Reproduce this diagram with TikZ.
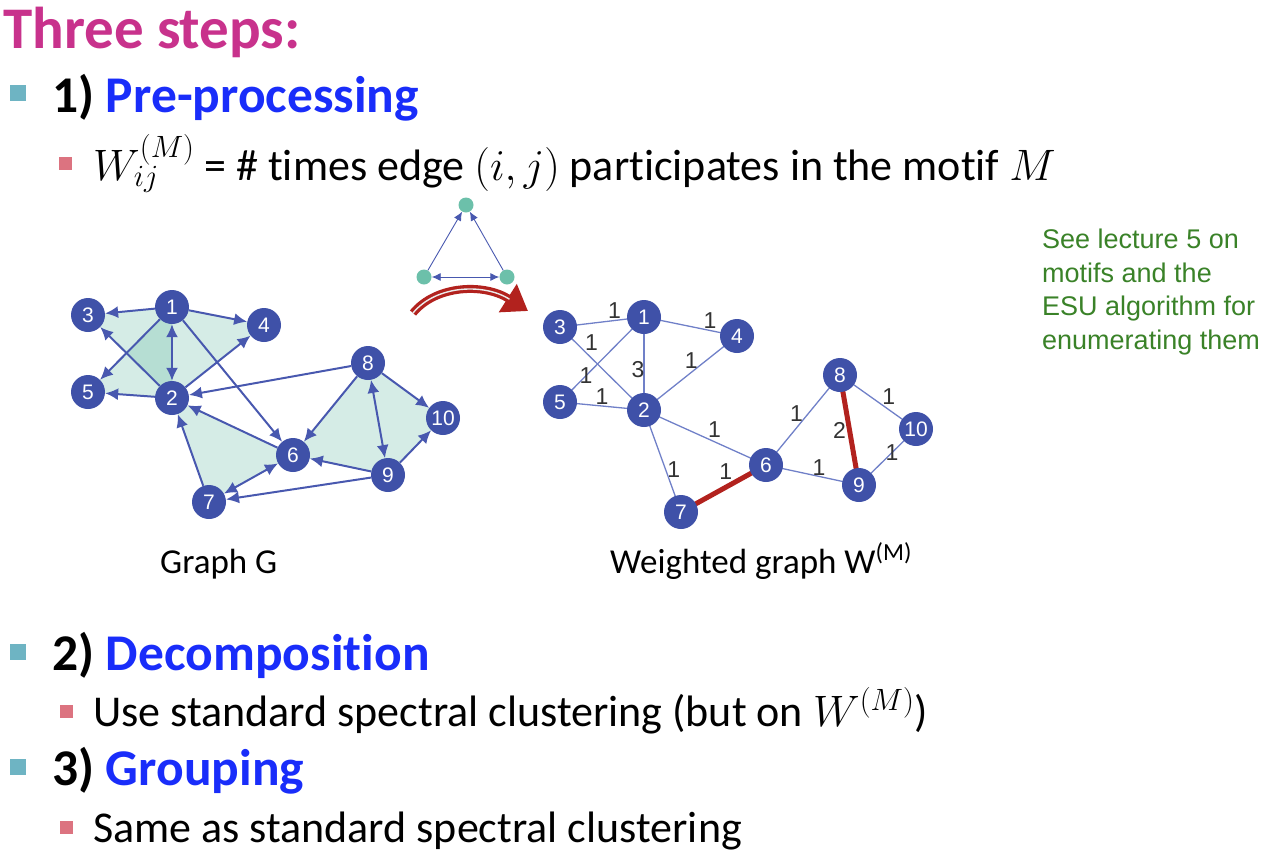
\documentclass[tikz,border=0pt]{standalone}
\usepackage{fix-cm}
\usepackage{fontspec}
\setmainfont{Carlito}[Ligatures=NoCommon]
\newfontfamily\labelfont{Liberation Sans}
\usetikzlibrary{arrows.meta,positioning,backgrounds}
\definecolor{titlemagenta}{RGB}{200,50,140}
\definecolor{stepblue}{RGB}{25,45,250}
\definecolor{bulletteal}{RGB}{110,180,195}
\definecolor{bulletpink}{RGB}{220,115,128}
\definecolor{nodeblue}{RGB}{63,81,168}
\definecolor{edgeblue}{RGB}{72,88,175}
\definecolor{weightblue}{RGB}{112,128,200}
\definecolor{motifteal}{RGB}{80,176,151}
\definecolor{dotteal}{RGB}{108,192,170}
\definecolor{cutred}{RGB}{178,34,30}
\definecolor{notegreen}{RGB}{58,130,40}
\newcommand{\wmotif}{W^{(M)}}

\begin{document}
\begin{tikzpicture}[x=1pt, y=-1pt,
    vtx/.style={circle, fill=nodeblue, text=white, inner sep=0pt,
        minimum size=34pt, font=\labelfont\fontsize{21}{21}\selectfont},
    dirline/.style={draw=edgeblue, line width=2pt, -{Latex[length=13pt,width=12pt]}},
    bidirline/.style={dirline, {Latex[length=13pt,width=12pt]}-{Latex[length=13pt,width=12pt]}},
    motiffill/.style={fill=motifteal, fill opacity=0.24},
    wline/.style={draw=weightblue, line width=1.3pt},
    cutline/.style={draw=cutred, line width=5pt},
    wlab/.style={inner sep=0pt, text=black!80, font=\labelfont\fontsize{23}{23}\selectfont},
    mdot/.style={circle, fill=dotteal, inner sep=0pt, minimum size=15pt},
    mline/.style={draw=edgeblue, line width=0.9pt, -{Latex[length=9pt,width=8pt]}},
    bendarrow/.style={draw=cutred, line width=8pt, -{Triangle[length=24pt,width=32pt]}},
    bendshine/.style={draw=white!85!gray, line width=1.4pt, shorten >=22pt},
    titletext/.style={anchor=base west, inner sep=0pt, text=titlemagenta,
        font=\bfseries\fontsize{59}{70}\selectfont},
    steptext/.style={anchor=base west, inner sep=0pt, font=\bfseries\fontsize{51.5}{60}\selectfont},
    subtext/.style={anchor=base west, inner sep=0pt, font=\fontsize{44}{52}\selectfont},
    captext/.style={anchor=base west, inner sep=0pt, font=\fontsize{35}{42}\selectfont},
    tealbox/.style={rectangle, fill=bulletteal, inner sep=0pt, minimum size=16pt},
    pinkbox/.style={rectangle, fill=bulletpink, inner sep=0pt, minimum size=13pt}
    ]
    \useasboundingbox (0,0) rectangle (1278,860);

    % Bullet text
    \node [titletext] (title) at (3,48) {Three steps:};
    \node [tealbox] (b1) at (18,93) {};
    \node [steptext] (s1) at (52,112) {1) \textcolor{stepblue}{Pre-processing}};
    \node [pinkbox] (p1) at (65,163) {};
    \node [subtext] (t1) at (93,180) {$W_{ij}^{(M)}$ = \# times edge $(i,j)$ participates in the motif $M$};
    \node [tealbox] (b2) at (18,652) {};
    \node [steptext] (s2) at (52,670) {2) \textcolor{stepblue}{Decomposition}};
    \node [pinkbox] (p2) at (66,711) {};
    \node [subtext] (t2) at (93,726) {Use standard spectral clustering (but on $\wmotif$)};
    \node [tealbox] (b3) at (18,767) {};
    \node [steptext] (s3) at (52,785) {3) \textcolor{stepblue}{Grouping}};
    \node [pinkbox] (p3) at (66,827) {};
    \node [subtext] (t3) at (93,842) {Same as standard spectral clustering};

    % Graph G
    \node [vtx] (g1) at (172,307) {1};
    \node [vtx] (g2) at (172,398) {2};
    \node [vtx] (g3) at (88,315) {3};
    \node [vtx] (g4) at (264,325) {4};
    \node [vtx] (g5) at (88,392) {5};
    \node [vtx] (g6) at (293,455) {6};
    \node [vtx] (g7) at (209,502) {7};
    \node [vtx] (g8) at (368,363) {8};
    \node [vtx] (g9) at (388,475) {9};
    \node [vtx] (g10) at (443,418) {10};
    \begin{scope}[on background layer]
        \foreach \a/\b/\c in {1/2/3,1/2/4,1/2/5,6/7/2,8/9/6,8/9/10}
            \fill [motiffill] (g\a.center) -- (g\b.center) -- (g\c.center) -- cycle;
    \end{scope}
    \foreach \s/\t in {1/3,1/4,1/5,1/6,2/3,2/4,2/5,8/2,6/2,7/2,9/7,8/6,8/10,9/10,9/6}
        \draw [dirline] (g\s) -- (g\t);
    \foreach \s/\t in {1/2,6/7,8/9}
        \draw [bidirline] (g\s) -- (g\t);
    \node [captext] (capg) at (160,573) {Graph G};

    % Motif M
    \node [mdot] (ma) at (466,205) {};
    \node [mdot] (mb) at (424,277) {};
    \node [mdot] (mc) at (507,277) {};
    \draw [mline] (mb) -- (ma);
    \draw [mline] (mc) -- (ma);
    \draw [mline, {Latex[length=9pt,width=8pt]}-{Latex[length=9pt,width=8pt]}] (mb) -- (mc);
    \coordinate (bendfrom) at (413,313);
    \coordinate (bendto) at (528,311);
    \draw [bendarrow] (bendfrom) .. controls (436,285) and (484,283) .. (bendto);
    \draw [bendshine] (bendfrom) .. controls (436,285) and (484,283) .. (bendto);

    % Weighted graph
    \node [vtx] (w1) at (644,317) {1};
    \node [vtx] (w2) at (644,410) {2};
    \node [vtx] (w3) at (560,327) {3};
    \node [vtx] (w4) at (737,336) {4};
    \node [vtx] (w5) at (560,402) {5};
    \node [vtx] (w6) at (766,465) {6};
    \node [vtx] (w7) at (681,512) {7};
    \node [vtx] (w8) at (840,375) {8};
    \node [vtx] (w9) at (859,485) {9};
    \node [vtx] (w10) at (916,429) {10};
    \begin{scope}[on background layer]
        \draw [wline] (w3.center) -- node [wlab, pos=0.65, above=1pt] {1} (w1.center);
        \draw [wline] (w1.center) -- node [wlab, pos=0.71, above=1pt] {1} (w4.center);
        \draw [wline] (w3.center) -- node [wlab, pos=0.29, above right] {1} (w2.center);
        \draw [wline] (w1.center) -- node [wlab, pos=0.69] {1} (w5.center);
        \draw [wline] (w1.center) -- node [wlab, pos=0.57, left=-1pt] {3} (w2.center);
        \draw [wline] (w2.center) -- node [wlab, pos=0.57, above left=-2pt] {1} (w4.center);
        \draw [wline] (w5.center) -- node [wlab, pos=0.5, above=1pt] {1} (w2.center);
        \draw [wline] (w2.center) -- node [wlab, pos=0.52, above right] {1} (w6.center);
        \draw [wline] (w2.center) -- node [wlab, pos=0.585, right=1pt] {1} (w7.center);
        \draw [cutline] (w7.center) -- node [wlab, pos=0.63, above left] {1} (w6.center);
        \draw [wline] (w6.center) -- node [wlab, pos=0.49, above left=-2pt] {1} (w8.center);
        \draw [cutline] (w8.center) -- node [wlab, pos=0.5, left=1pt] {2} (w9.center);
        \draw [wline] (w8.center) -- node [wlab, pos=0.55, above right] {1} (w10.center);
        \draw [wline] (w9.center) -- node [wlab, pos=0.58] {1} (w10.center);
        \draw [wline] (w6.center) -- node [wlab, pos=0.57, above] {1} (w9.center);
    \end{scope}
    \node [captext] (capw) at (610,573) {Weighted graph W\textsuperscript{(M)}};

    % Note
    \node [anchor=north west, inner sep=0pt, align=left, text=notegreen,
        font=\labelfont\fontsize{27}{33.5}\selectfont] (note) at (1042,229)
        {See lecture 5 on\\motifs and the\\ESU algorithm for\\enumerating them};
\end{tikzpicture}
\end{document}
